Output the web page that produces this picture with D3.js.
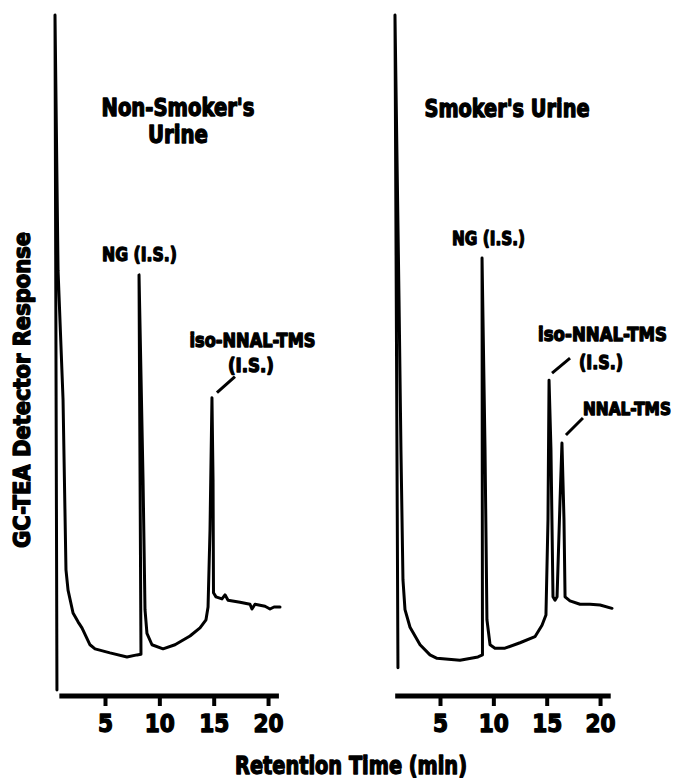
<!DOCTYPE html>
<html>
<head>
<meta charset="utf-8">
<script src="https://cdn.jsdelivr.net/npm/d3@7"></script>
<style>
  body { margin: 0; background: #fff; }
  text {
    font-family: "Liberation Sans Narrow", "DejaVu Sans Condensed", "Arial Narrow", sans-serif;
    font-weight: bold;
    fill: #000;
    stroke: #000;
    stroke-width: 1.3px;
    stroke-linejoin: round;
  }
</style>
</head>
<body>
<div class="chart"></div>
<script>
var svgWidth = 679;
var svgHeight = 783;

// retention time ticks (min)
var tickValues = [5, 10, 15, 20];

// non-smoker trace (time in min, response in % of full scale)
var nonSmokerTime = [0.58, 0.40, 0.68, 1.14, 1.41, 1.60, 2.06, 2.52, 2.88, 3.62, 4.08, 5.46, 7.02, 7.94,
  8.31, 8.13, 8.50, 8.68, 8.86, 9.32, 10.34, 11.44, 12.82, 13.74, 14.29, 14.48, 14.66, 14.84, 14.94,
  14.98, 15.21, 15.76, 16.04, 16.32, 17.42, 18.34, 18.52, 18.80, 19.72, 20.18, 20.55, 21.10];
var nonSmokerResp = [0, 100, 62.2, 43.0, 17.8, 14.8, 11.4, 10.1, 9.2, 6.7, 6.1, 5.5, 4.9, 5.2,
  5.3, 61.5, 31.1, 11.9, 8.4, 6.7, 6.1, 6.7, 8.0, 9.2, 10.4, 12.3, 23.7, 43.3, 31.1,
  14.4, 13.8, 13.5, 14.1, 13.3, 13.0, 12.7, 12.0, 12.7, 12.4, 12.0, 12.3, 12.3];

// smoker trace
var smokerTime = [1.06, 0.78, 1.16, 1.34, 1.53, 1.72, 2.19, 3.13, 4.06, 4.72, 6.87, 8.56, 8.98, 8.94,
  9.22, 9.40, 9.69, 10.15, 11.09, 12.50, 13.90, 14.56, 14.93, 15.12, 15.22, 15.40, 15.59, 15.78,
  15.97, 16.25, 16.43, 16.62, 16.72, 17.18, 18.12, 19.06, 20.00, 21.12];
var smokerResp = [3.3, 100, 57.8, 35.6, 16.3, 11.9, 9.3, 6.7, 5.2, 4.7, 4.4, 4.9, 5.2, 64.0,
  35.6, 10.4, 6.7, 6.2, 6.2, 7.0, 7.9, 9.6, 11.1, 25.2, 45.9, 35.6, 13.8, 13.3,
  13.8, 28.1, 36.6, 25.2, 13.8, 13.2, 12.7, 12.7, 12.6, 12.1];

var axisExtent = [0.8, 21.0];

var svg = d3.select(".chart")
  .append("svg")
  .attr("width", svgWidth)
  .attr("height", svgHeight);

// shared response scale
var yScale = d3.scaleLinear().domain([0, 100]).range([690, 15]);
var axisY = 696;

// find the biggest point near a given time
function peakIndex(times, resps, t0) {
  var best = -1;
  times.forEach(function(t, i) {
    if (Math.abs(t - t0) < 0.6 && (best < 0 || resps[i] > resps[best])) best = i;
  });
  return best;
}

function drawPanel(times, resps, xScale, labels) {
  var g = svg.append("g");
  var pts = times.map(function(t, i) { return [t, resps[i]]; });

  var line = d3.line()
    .x(function(d) { return xScale(d[0]); })
    .y(function(d) { return yScale(d[1]); });

  g.append("path")
    .datum(pts)
    .attr("d", line)
    .attr("fill", "none")
    .attr("stroke", "#000")
    .attr("stroke-width", 3)
    .attr("stroke-linejoin", "round")
    .attr("stroke-linecap", "round");

  // x axis
  var axisG = g.append("g")
    .attr("transform", "translate(0," + axisY + ")")
    .call(d3.axisBottom(xScale).tickValues(tickValues).tickSize(10).tickPadding(9));
  axisG.select(".domain").remove();
  axisG.selectAll(".tick line").attr("stroke", "#000").attr("stroke-width", 4);
  axisG.selectAll(".tick text")
    .attr("font-size", 24)
    .attr("font-family", null);

  g.append("line")
    .attr("x1", xScale(axisExtent[0]))
    .attr("x2", xScale(axisExtent[1]))
    .attr("y1", axisY)
    .attr("y2", axisY)
    .attr("stroke", "#000")
    .attr("stroke-width", 5);

  // peak labels
  labels.forEach(function(lb) {
    var i = peakIndex(times, resps, lb.t);
    var px = xScale(times[i]);
    var py = yScale(resps[i]);
    lb.lines.forEach(function(l) {
      g.append("text")
        .attr("x", px + l.dx)
        .attr("y", py + l.dy)
        .attr("text-anchor", "middle")
        .attr("font-size", l.size || 20)
        .attr("textLength", l.w)
        .attr("lengthAdjust", "spacingAndGlyphs")
        .text(l.text);
    });
    if (lb.leader) {
      g.append("line")
        .attr("x1", px + lb.leader[0])
        .attr("y1", py + lb.leader[1])
        .attr("x2", px + lb.leader[2])
        .attr("y2", py + lb.leader[3])
        .attr("stroke", "#000")
        .attr("stroke-width", 3);
    }
  });
  return g;
}

var xLeft = d3.scaleLinear().domain([0, 20]).range([50.65, 268.05]);
var xRight = d3.scaleLinear().domain([0, 20]).range([386.65, 600.05]);

drawPanel(nonSmokerTime, nonSmokerResp, xLeft, [
  { t: 8.1, lines: [{ text: "NG (I.S.)", dx: 0.5, dy: -14, w: 75 }] },
  { t: 14.8, lines: [
      { text: "iso-NNAL-TMS", dx: 40.5, dy: -51, w: 126 },
      { text: "(I.S.)", dx: 39, dy: -26, w: 46 }],
    leader: [5, -5, 23, -21] }
]);

drawPanel(smokerTime, smokerResp, xRight, [
  { t: 8.9, lines: [{ text: "NG (I.S.)", dx: 6.5, dy: -13, w: 73 }] },
  { t: 15.2, lines: [
      { text: "iso-NNAL-TMS", dx: 53.5, dy: -39, w: 129 },
      { text: "(I.S.)", dx: 52, dy: -11, w: 44 }],
    leader: [3, -7, 21, -22] },
  { t: 16.4, lines: [{ text: "NNAL-TMS", dx: 65, dy: -28, w: 88, size: 18 }],
    leader: [4, -8, 21, -25] }
]);

// panel titles
svg.append("text").attr("x", 178).attr("y", 116).attr("text-anchor", "middle")
  .attr("font-size", 24).attr("textLength", 153).attr("lengthAdjust", "spacingAndGlyphs")
  .text("Non-Smoker's");
svg.append("text").attr("x", 178).attr("y", 143).attr("text-anchor", "middle")
  .attr("font-size", 24).attr("textLength", 60).attr("lengthAdjust", "spacingAndGlyphs")
  .text("Urine");
svg.append("text").attr("x", 507).attr("y", 117).attr("text-anchor", "middle")
  .attr("font-size", 24).attr("textLength", 165).attr("lengthAdjust", "spacingAndGlyphs")
  .text("Smoker's Urine");

// axis titles
svg.append("text")
  .attr("x", 351).attr("y", 774)
  .attr("text-anchor", "middle")
  .attr("font-size", 24)
  .attr("textLength", 232).attr("lengthAdjust", "spacingAndGlyphs")
  .text("Retention Time (min)");

svg.append("text")
  .attr("transform", "translate(30,390) rotate(-90)")
  .attr("text-anchor", "middle")
  .attr("font-size", 23)
  .attr("textLength", 316).attr("lengthAdjust", "spacingAndGlyphs")
  .text("GC-TEA Detector Response");
</script>
</body>
</html>
